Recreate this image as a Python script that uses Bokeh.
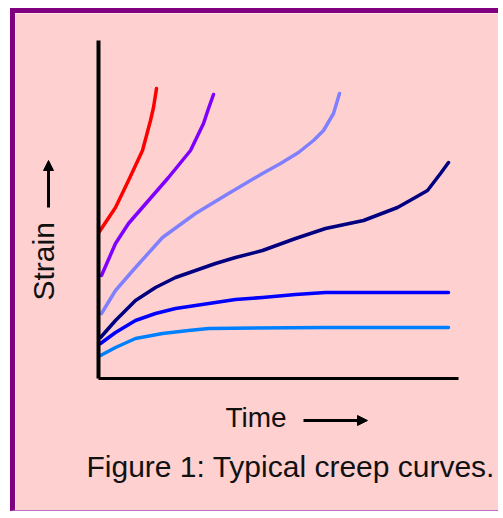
from bokeh.plotting import figure
from bokeh.models import Range1d, FixedTicker, Label, Arrow, NormalHead
from bokeh.embed import file_html
from bokeh.resources import INLINE

# ---- data (time, strain in arbitrary units) ----
t_red = [1, 17, 30, 44, 52, 55, 58]
s_red = [147, 171, 198, 228, 258, 271, 290]

t_purple = [3, 17, 30, 50, 70, 92, 105, 110, 115]
s_purple = [103, 135, 155, 178, 201, 228, 255, 270, 284]

t_lblue = [3, 17, 37, 64, 97, 130, 164, 182, 200, 215, 225, 235, 241]
s_lblue = [65, 88, 111, 141, 165, 185, 205, 215, 226, 238, 248, 265, 285]

t_navy = [2, 17, 37, 57, 77, 97, 117, 137, 164, 197, 227, 265, 299, 315, 329, 342, 350]
s_navy = [41, 58, 78, 91, 101, 108, 115, 121, 128, 140, 150, 158, 171, 180, 188, 205, 216]

t_blue = [2, 17, 37, 57, 77, 97, 117, 137, 164, 197, 227, 350]
s_blue = [35, 46, 58, 65, 70, 73, 76, 79, 81, 84, 86, 86]

t_sky = [2, 17, 37, 64, 90, 110, 227, 350]
s_sky = [23, 31, 40, 45, 48, 50, 51, 51]

series = [
    (t_red, s_red, "#ff0000"),
    (t_purple, s_purple, "#8000ff"),
    (t_lblue, s_lblue, "#8080ff"),
    (t_navy, s_navy, "#000080"),
    (t_blue, s_blue, "#0000ff"),
    (t_sky, s_sky, "#0080ff"),
]

time_axis_end = 360
strain_axis_end = 338

x_label = "Time"
y_label = "Strain"
caption = "Figure 1: Typical creep curves."

PINK = "#ffd0d0"

p = figure(width=488, height=503, output_backend="svg", toolbar_location=None,
           x_range=Range1d(-83, 405), y_range=Range1d(-138, 365),
           min_border=0)
p.styles = {"border-top": "5px solid #800080", "border-left": "5px solid #800080",
            "border-bottom": "1px solid #c070c0", "margin-left": "10px",
            "margin-top": "8px"}
p.background_fill_color = PINK
p.border_fill_color = PINK
p.outline_line_color = None
p.grid.visible = False
for ax in (p.xaxis[0], p.yaxis[0]):
    ax.ticker = FixedTicker(ticks=[])
    ax.major_tick_line_color = None
    ax.minor_tick_line_color = None
    ax.major_tick_out = 0
    ax.major_tick_in = 0
    ax.minor_tick_out = 0
    ax.minor_tick_in = 0
    ax.major_label_standoff = 0
    ax.major_label_text_font_size = "0px"
    ax.axis_line_color = "black"
    ax.fixed_location = 0
p.yaxis[0].bounds = (0, strain_axis_end)
p.xaxis[0].bounds = (0, time_axis_end)
p.yaxis[0].axis_line_width = 4
p.xaxis[0].axis_line_width = 3

for t, s, c in series:
    p.line(t, s, line_color=c, line_width=3.5, line_join="round", line_cap="round")

FONT = "Liberation Sans"
p.add_layout(Label(x=210, y=99, x_units="screen", y_units="screen", text=x_label,
                   text_font=FONT, text_font_size="28px", text_color="#111111",
                   text_align="left", text_baseline="middle"))
p.add_layout(Label(x=28, y=216, x_units="screen", y_units="screen", text=y_label,
                   angle=1.5708, text_font=FONT, text_font_size="30px",
                   text_color="#111111", text_align="left", text_baseline="middle"))
p.add_layout(Label(x=71, y=50, x_units="screen", y_units="screen", text=caption,
                   text_font=FONT, text_font_size="30px", text_color="#111111",
                   text_align="left", text_baseline="middle"))

p.add_layout(Arrow(x_start=288, y_start=96, x_end=352, y_end=96,
                   start_units="screen", end_units="screen", line_width=3,
                   line_color="black",
                   end=NormalHead(size=10, fill_color="black", line_color="black")))
p.add_layout(Arrow(x_start=33, y_start=309, x_end=33, y_end=356,
                   start_units="screen", end_units="screen", line_width=3,
                   line_color="black",
                   end=NormalHead(size=10, fill_color="black", line_color="black")))

open("out.html", "w").write(file_html(p, INLINE))
